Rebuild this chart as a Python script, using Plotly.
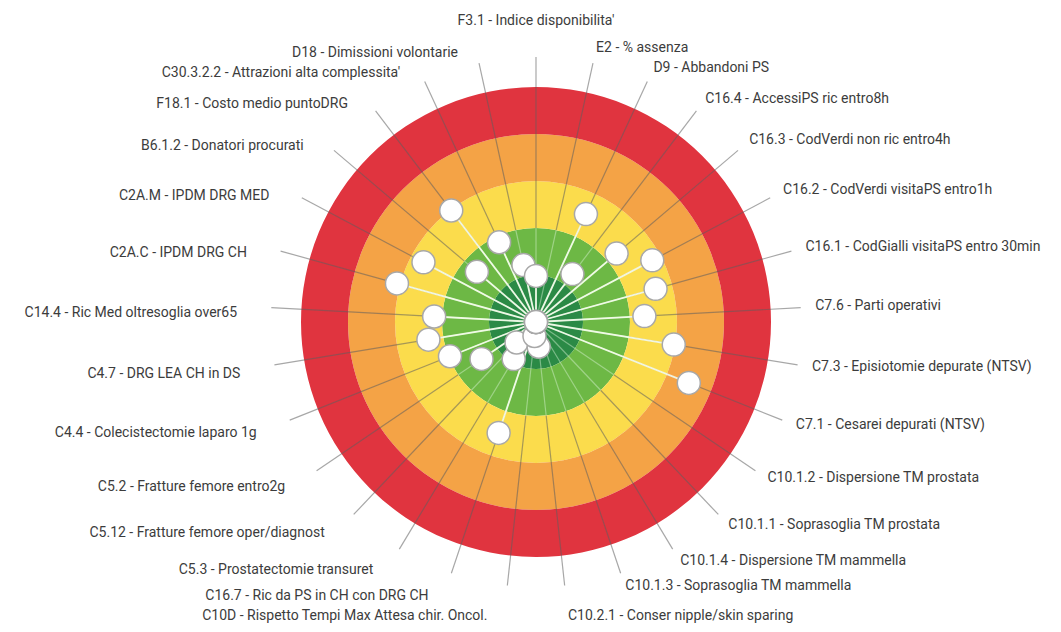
import plotly.graph_objects as go

# Indicators, clockwise starting from the top
labels = [
    "F3.1 - Indice disponibilita'",
    "E2 - % assenza",
    "D9 - Abbandoni PS",
    "C16.4 - AccessiPS ric entro8h",
    "C16.3 - CodVerdi non ric entro4h",
    "C16.2 - CodVerdi visitaPS entro1h",
    "C16.1 - CodGialli visitaPS entro 30min",
    "C7.6 - Parti operativi",
    "C7.3 - Episiotomie depurate (NTSV)",
    "C7.1 - Cesarei depurati (NTSV)",
    "C10.1.2 - Dispersione TM prostata",
    "C10.1.1 - Soprasoglia TM prostata",
    "C10.1.4 - Dispersione TM mammella",
    "C10.1.3 - Soprasoglia TM mammella",
    "C10.2.1 - Conser nipple/skin sparing",
    "C10D - Rispetto Tempi Max Attesa chir. Oncol.",
    "C16.7 - Ric da PS in CH con DRG CH",
    "C5.3 - Prostatectomie transuret",
    "C5.12 - Fratture femore oper/diagnost",
    "C5.2 - Fratture femore entro2g",
    "C4.4 - Colecistectomie laparo 1g",
    "C4.7 - DRG LEA CH in DS",
    "C14.4 - Ric Med oltresoglia over65",
    "C2A.C - IPDM DRG CH",
    "C2A.M - IPDM DRG MED",
    "B6.1.2 - Donatori procurati",
    "F18.1 - Costo medio puntoDRG",
    "C30.3.2.2 - Attrazioni alta complessita'",
    "D18 - Dimissioni volontarie",
]

# distance from the centre of the target (0 = centre / best, 5 = outer edge)
values = [
    0.98, 0.0, 2.53, 1.28, 2.25, 2.80, 2.64, 2.31, 2.97, 3.50,
    0.0, 0.0, 0.0, 0.0, 0.53, 0.30, 2.49, 0.92, 0.60, 1.40,
    1.97, 2.32, 2.17, 3.07, 2.71, 1.65, 2.98, 1.87, 1.24,
]

# target bands (inner to outer)
band_names = ["Ottima", "Buona", "Media", "Scarsa", "Molto scarsa"]
band_colors = ["#2b8a46", "#6db845", "#fbdc4c", "#f4a346", "#e0343f"]

n = len(labels)
angles = [i * 360.0 / n for i in range(n)]

SPOKE_END = 5.64
R_MAX = 6.4
PX_PER_UNIT = 47

fig = go.Figure()

# concentric bands
for k, (name, col) in enumerate(zip(band_names, band_colors)):
    fig.add_trace(go.Barpolar(
        r=[1], base=[k], theta=[0], width=[360], name=name,
        marker=dict(color=col, line=dict(width=0)),
        hoverinfo="skip",
    ))

# spokes: light inside the green bands, grey outside
r_in, t_in, r_out, t_out = [], [], [], []
for a in angles:
    r_in += [0, 2, None]
    t_in += [a, a, None]
    r_out += [2, SPOKE_END, None]
    t_out += [a, a, None]
fig.add_trace(go.Scatterpolar(r=r_in, theta=t_in, mode="lines",
                              line=dict(color="rgba(220,245,215,0.45)", width=1.2),
                              hoverinfo="skip"))
fig.add_trace(go.Scatterpolar(r=r_out, theta=t_out, mode="lines",
                              line=dict(color="rgba(95,95,95,0.55)", width=1.2),
                              hoverinfo="skip"))

# white lines from centre to each value
r_w, t_w = [], []
for a, v in zip(angles, values):
    if v > 0:
        r_w += [0, v, None]
        t_w += [a, a, None]
fig.add_trace(go.Scatterpolar(r=r_w, theta=t_w, mode="lines",
                              line=dict(color="rgba(248,255,240,0.9)", width=1.8),
                              hoverinfo="skip"))

# value dots (outer ones drawn first so the centre dot lies on top)
order = sorted(range(n), key=lambda i: -values[i])
fig.add_trace(go.Scatterpolar(
    r=[values[i] for i in order], theta=[angles[i] for i in order],
    mode="markers", text=[labels[i] for i in order],
    marker=dict(size=23, color="white", line=dict(color="#a8a8a8", width=1.5)),
    hovertemplate="%{text}<extra></extra>",
))

# labels
pos, lab_r, lab_txt = [], [], []
pad = "\u00a0" * 5
for a, t in zip(angles, labels):
    near_bottom = abs(a - 180) < 15
    if a == 0:
        pos.append("top center"); lab_r.append(6.25); lab_txt.append(t)
    elif a < 180:
        pos.append("middle right"); lab_r.append(6.3 if near_bottom else 5.95)
        lab_txt.append(t)
    else:
        pos.append("bottom left"); lab_r.append(6.15 if near_bottom else 6.0)
        lab_txt.append(t + pad)
fig.add_trace(go.Scatterpolar(
    r=lab_r, theta=angles, mode="text", text=lab_txt,
    textposition=pos, cliponaxis=False,
    textfont=dict(family="Roboto", size=14, color="#3c3c3c"),
    hoverinfo="skip",
))

# page body has an 8px margin: size and place the target to match
W, H = 1045, 616
cx, cy = 528, 314
rad = R_MAX * PX_PER_UNIT
fig.update_layout(
    width=W, height=H,
    margin=dict(l=0, r=0, t=0, b=0),
    paper_bgcolor="white",
    showlegend=False,
    polar=dict(
        domain=dict(x=[(cx - rad) / W, (cx + rad) / W],
                    y=[max(0, 1 - (cy + rad) / H), min(1, 1 - (cy - rad) / H)]),
        bgcolor="rgba(0,0,0,0)",
        barmode="overlay",
        radialaxis=dict(range=[0, R_MAX], visible=False, showgrid=False),
        angularaxis=dict(direction="clockwise", rotation=90, visible=False,
                         showgrid=False),
    ),
)

fig.write_html("out.html")
